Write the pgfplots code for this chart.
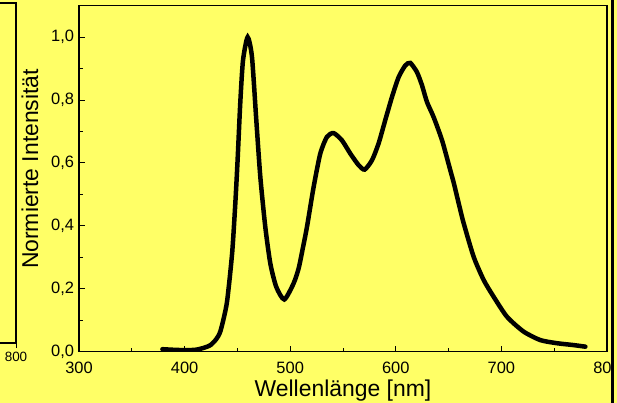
\documentclass[border=0pt]{standalone}
\usepackage{fontspec}
\setmainfont{Liberation Sans}
\usepackage{pgfplots}
\pgfplotsset{compat=1.18}
\definecolor{bgyellow}{RGB}{255,255,102}

\begin{document}
\begin{tikzpicture}
  \useasboundingbox (0,0) rectangle (617bp,403bp);
  \clip (0,0) rectangle (617bp,403bp);
  \fill[bgyellow] (0,0) rectangle (617bp,403bp);

  % neighbouring panel, only its right edge shows
  \begin{axis}[
    at={(16bp,60bp)}, anchor=south east,
    scale only axis, width=300bp, height=340bp,
    xmin=300, xmax=800, ymin=0, ymax=1.1,
    axis line style={line width=1.3bp},
    xtick={800}, ytick=\empty,
    tick align=outside, xtick pos=bottom,
    major tick length=5bp,
    tick style={line width=1bp, black},
    xticklabel style={font=\fontsize{13.5}{15}\selectfont, yshift=-1bp},
    /pgf/number format/assume math mode=true,
  ]
  \end{axis}

  \begin{axis}[
    at={(79bp,51.3bp)}, anchor=south west,
    scale only axis, width=528bp, height=346bp,
    xmin=300, xmax=800, ymin=0, ymax=1.1,
    axis line style={line width=1.5bp},
    xtick={300,400,...,800},
    ytick={0,0.2,...,1.0},
    minor x tick num=1, minor y tick num=1,
    tick align=inside,
    xtick pos=bottom, ytick pos=left,
    major tick length=6bp, minor tick length=3.5bp,
    tick style={line width=1bp, black},
    ticklabel style={font=\fontsize{16.5}{18}\selectfont},
    xticklabel style={yshift=-7bp},
    yticklabel style={xshift=-1.5bp, /pgf/number format/.cd, use comma, fixed, fixed zerofill, precision=1},
    /pgf/number format/assume math mode=true,
    xlabel={Wellenlänge [nm]},
    ylabel={Normierte Intensität},
    label style={font=\fontsize{23}{26}\selectfont},
    xlabel style={at={(axis description cs:0.5,-0.113)}, anchor=center},
    ylabel style={at={(axis description cs:-0.093,0.528)}, anchor=center},
  ]
  \addplot[black, line width=4.5bp, smooth, tension=0.4, line cap=round] coordinates {
    (379,0.008) (390,0.006) (400,0.005) (410,0.006) (418,0.012)
    (424.5,0.021) (430,0.040) (434,0.066) (440,0.155) (445,0.313)
    (448,0.470) (450.2,0.610) (452.7,0.790) (455.3,0.926) (459.7,1.000)
    (463.8,0.937) (467.9,0.736) (471.7,0.556) (476.4,0.397) (481.2,0.280)
    (486.8,0.206) (494.4,0.166) (503.2,0.217) (508,0.265) (512,0.330)
    (515.9,0.397) (522.2,0.524) (528.5,0.630) (534.8,0.683) (541.1,0.695)
    (549,0.672) (556.9,0.630) (564.8,0.593) (570.5,0.579) (577.5,0.609)
    (583.7,0.662) (590,0.736) (596.4,0.810) (602.7,0.873) (609,0.910)
    (613.7,0.918) (620,0.889) (624.8,0.847) (629.5,0.794) (635.8,0.746)
    (643.8,0.672) (651.6,0.577) (655,0.535) (660.4,0.460) (664.3,0.408)
    (673.7,0.302) (683.2,0.228) (692.6,0.175) (705.3,0.111) (721,0.064)
    (736.8,0.037) (752.6,0.027) (768.4,0.021) (779.5,0.016)
  };
  \end{axis}

  % edge of the next panel on the right
  \draw[line width=3bp, black] (612.5bp,0) -- (612.5bp,403bp);
  \fill[bgyellow] (614bp,0) rectangle (617bp,403bp);
\end{tikzpicture}
\end{document}
